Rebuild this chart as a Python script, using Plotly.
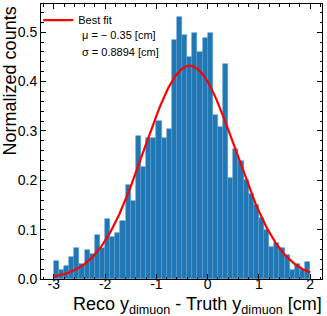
import numpy as np
import plotly.graph_objects as go

# Histogram: 50 bins of width 0.1 from -3 to 2 (left edges)
bin_left = [round(-3.0 + 0.1 * i, 1) for i in range(50)]
bin_width = 0.1
counts = [
    0.036, 0.018, 0.026, 0.044, 0.063, 0.031, 0.059, 0.051, 0.090, 0.062,
    0.121, 0.086, 0.094, 0.118, 0.190, 0.158, 0.289, 0.226, 0.285, 0.285,
    0.321, 0.286, 0.304, 0.485, 0.531, 0.495, 0.449, 0.499, 0.459, 0.489,
    0.499, 0.332, 0.308, 0.435, 0.204, 0.263, 0.240, 0.200, 0.173, 0.150,
    0.123, 0.100, 0.064, 0.072, 0.063, 0.049, 0.018, 0.030, 0.018, 0.035,
]

# Gaussian fit parameters
fit_mu = -0.35
fit_sigma = 0.8894
fit_amp = 0.432
fit_range = [-3.0, 2.0]

x_ticks = [-3, -2, -1, 0, 1, 2]
x_ticktext = ["-3", "-2", "-1", "0", "1", "2"]
fit_text = ["μ = − 0.35 [cm]", "σ = 0.8894 [cm]"]

centers = [b + bin_width / 2 for b in bin_left]
xf = np.linspace(fit_range[0], fit_range[1], 300)
yf = fit_amp * np.exp(-(xf - fit_mu) ** 2 / (2 * fit_sigma ** 2))

FONT = "Liberation Sans, Arial, Helvetica, sans-serif"

fig = go.Figure()
fig.add_trace(go.Bar(
    x=centers, y=counts, width=bin_width,
    marker=dict(color="#1f77b4", line=dict(color="#5b9bd0", width=0.6)),
    showlegend=False, hoverinfo="skip",
))
fig.add_trace(go.Scatter(
    x=xf, y=yf, mode="lines", name="Best fit",
    line=dict(color="#ff0000", width=2.2),
))

axis_common = dict(
    showline=True, linecolor="black", linewidth=1, mirror="allticks",
    ticks="inside", ticklen=5, tickwidth=1, tickcolor="black",
    showgrid=False, zeroline=False,
    tickfont=dict(family=FONT, size=14, color="black"),
)

annotations = [
    dict(text="Normalized counts", xref="paper", yref="paper",
         x=-0.11, y=0.997, xanchor="center", yanchor="top",
         textangle=-90, showarrow=False,
         font=dict(family=FONT, size=18, color="black")),
    dict(text="Reco y<sub>dimuon</sub> - Truth y<sub>dimuon</sub> [cm]",
         xref="paper", yref="paper", x=1.006, y=-0.097,
         xanchor="right", yanchor="middle", showarrow=False,
         font=dict(family=FONT, size=18, color="black")),
]
for i, t in enumerate(fit_text):
    annotations.append(dict(
        text=t, xref="paper", yref="paper", x=0.138, y=0.887 - 0.062 * i,
        xanchor="left", yanchor="middle", showarrow=False,
        font=dict(family=FONT, size=11, color="black")))

fig.update_layout(
    width=327, height=316,
    margin=dict(l=41, r=5, t=4, b=37),
    paper_bgcolor="white", plot_bgcolor="white",
    bargap=0,
    font=dict(family=FONT, color="black"),
    xaxis=dict(
        range=[-3.25, 2.23], tickvals=x_ticks, ticktext=x_ticktext,
        ticklabelstandoff=-8,
        minor=dict(ticks="inside", ticklen=2.5, dtick=0.2, tick0=0,
                   tickcolor="black", tickwidth=1),
        **axis_common,
    ),
    yaxis=dict(
        range=[0, 0.557], dtick=0.1, tick0=0, tickformat=".1f",
        minor=dict(ticks="inside", ticklen=2.5, dtick=0.02, tick0=0,
                   tickcolor="black", tickwidth=1),
        **axis_common,
    ),
    legend=dict(
        x=-0.01, y=0.994, xanchor="left", yanchor="top",
        bgcolor="rgba(0,0,0,0)", borderwidth=0,
        font=dict(family=FONT, size=11, color="black"),
        itemwidth=30,
    ),
    annotations=annotations,
)

fig.write_html("out.html", config={"displayModeBar": False},
               post_script="document.body.style.margin='0';")
